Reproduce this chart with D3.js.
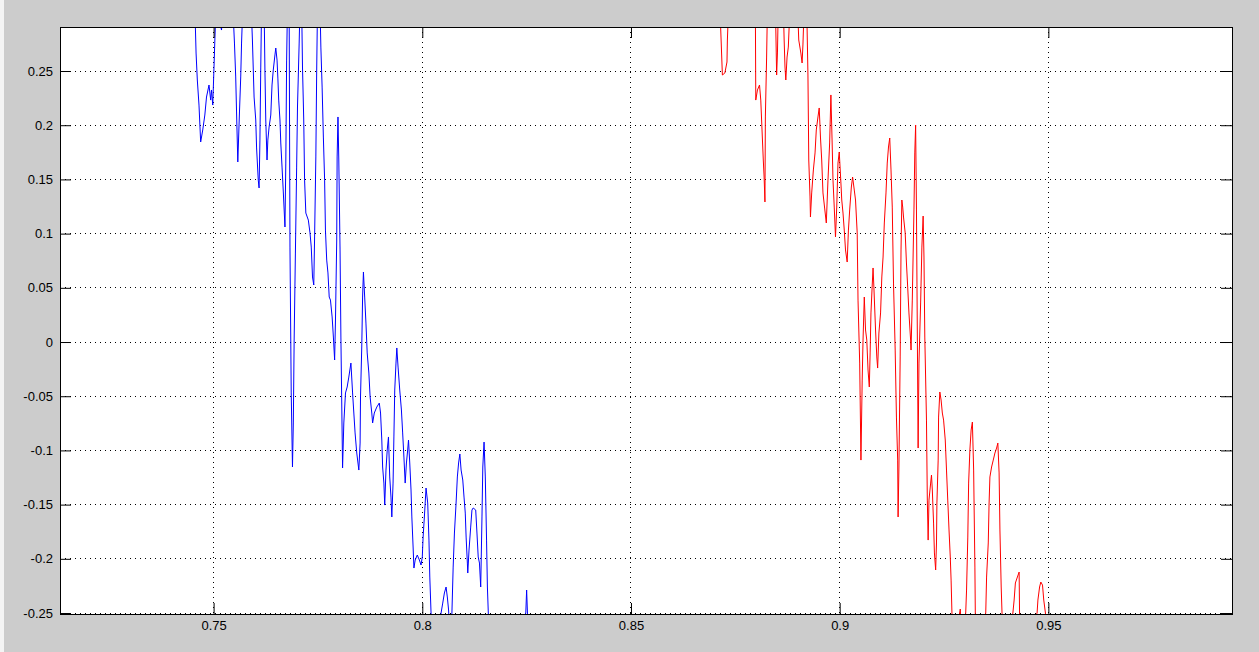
<!DOCTYPE html>
<meta charset="utf-8">
<style>
  body { margin: 0; background: #cccccc; }
  svg { display: block; }
  .tick text { font-family: "Liberation Sans", Arial, sans-serif; font-size: 13px; fill: #000; }
  .tick line { stroke: #000; }
  .grid line { stroke: #000; stroke-dasharray: 1,4; shape-rendering: crispEdges; }
  .line { fill: none; stroke-width: 1; }
</style>
<body>
<svg width="1259" height="652"></svg>

<script src="https://cdn.jsdelivr.net/npm/d3@7"></script>
<script>

// tick positions and their labels (matlab style, plain hyphen)
var xTicks = [0.75, 0.8, 0.85, 0.9, 0.95];
var xTickLabels = ["0.75", "0.8", "0.85", "0.9", "0.95"];
var yTicks = [-0.25, -0.2, -0.15, -0.1, -0.05, 0, 0.05, 0.1, 0.15, 0.2, 0.25];
var yTickLabels = ["-0.25", "-0.2", "-0.15", "-0.1", "-0.05", "0", "0.05", "0.1", "0.15", "0.2", "0.25"];

var xLimits = [0.7132, 0.994];
var yLimits = [-0.2509, 0.2906];

// blue trace [x, y]
var blueSeries = [
  [0.7455,0.31],[0.7458,0.2666],[0.7461,0.2417],[0.7465,0.2186],[0.7469,0.1845],[0.7474,0.1956],[0.7479,0.2094],[0.7483,0.2260],
  [0.7489,0.2371],[0.7493,0.2232],[0.7495,0.2325],[0.7498,0.2186],[0.7501,0.2537],[0.7503,0.2786],[0.7506,0.31],[0.7519,0.2878],[0.7523,0.31],
  [0.7546,0.31],[0.7550,0.2758],[0.7553,0.2445],[0.7555,0.2122],[0.7558,0.1661],[0.7562,0.2122],[0.7565,0.2445],[0.7567,0.2758],[0.7570,0.31],
  [0.7590,0.31],[0.7593,0.2786],[0.7597,0.2260],[0.7601,0.2048],[0.7603,0.1790],[0.7607,0.1494],[0.7609,0.1421],[0.7611,0.1863],[0.7613,0.2528],[0.7615,0.31],
  [0.7621,0.31],[0.7623,0.2509],[0.7625,0.2048],[0.7628,0.1679],[0.7630,0.1863],[0.7633,0.1983],[0.7637,0.2094],[0.7640,0.2371],[0.7643,0.2509],
  [0.7647,0.2648],[0.7649,0.2712],[0.7652,0.2601],[0.7654,0.2435],[0.7656,0.2232],[0.7659,0.2048],[0.7661,0.1836],[0.7664,0.1614],[0.7667,0.1384],
  [0.7671,0.1061],[0.7673,0.1651],[0.7675,0.2601],[0.7677,0.31],
  [0.7681,0.31],[0.7683,0.0876],[0.7686,-0.0470],[0.7689,-0.1153],[0.7691,-0.0747],[0.7693,0.0018],[0.7696,0.0821],[0.7699,0.1614],[0.7701,0.2168],[0.7705,0.2758],[0.7707,0.31],
  [0.7711,0.31],[0.7713,0.2537],[0.7716,0.2048],[0.7718,0.1494],[0.7721,0.1190],[0.7727,0.1125],[0.7731,0.1006],[0.7734,0.0876],[0.7737,0.0600],
  [0.7740,0.0526],[0.7742,0.0969],[0.7745,0.1707],[0.7747,0.2509],[0.7749,0.31],
  [0.7755,0.31],[0.7757,0.2721],[0.7760,0.2352],[0.7763,0.1891],[0.7766,0.1494],[0.7768,0.1033],[0.7771,0.0756],[0.7774,0.0637],[0.7777,0.0415],
  [0.7780,0.0387],[0.7784,0.0231],[0.7787,0.0046],[0.7790,-0.0166],[0.7792,0.0203],[0.7795,0.0941],[0.7796,0.1707],[0.7798,0.2076],[0.7800,0.1679],
  [0.7803,0.0849],[0.7805,0.0046],[0.7809,-0.1162],[0.7812,-0.0747],[0.7816,-0.0470],[0.7820,-0.0415],[0.7824,-0.0323],[0.7829,-0.0194],
  [0.7833,-0.0470],[0.7836,-0.0655],[0.7839,-0.0839],[0.7843,-0.1024],[0.7848,-0.1181],[0.7851,-0.0932],[0.7852,-0.0507],[0.7855,-0.0046],
  [0.7857,0.0415],[0.7859,0.0646],[0.7862,0.0415],[0.7865,0.0175],[0.7868,-0.0101],[0.7872,-0.0286],[0.7875,-0.0507],[0.7879,-0.0655],
  [0.7881,-0.0747],[0.7885,-0.0655],[0.7891,-0.0600],[0.7897,-0.0563],[0.7900,-0.0655],[0.7903,-0.0904],[0.7905,-0.1153],[0.7908,-0.1301],
  [0.7910,-0.1504],[0.7913,-0.1181],[0.7916,-0.0996],[0.7919,-0.0876],[0.7922,-0.1245],[0.7925,-0.1430],[0.7927,-0.1614],[0.7930,-0.1301],
  [0.7932,-0.0876],[0.7934,-0.0443],[0.7937,-0.0194],[0.7939,-0.0055],[0.7942,-0.0231],[0.7946,-0.0443],[0.7950,-0.0627],[0.7953,-0.0839],
  [0.7956,-0.1061],[0.7959,-0.1301],[0.7962,-0.1116],[0.7965,-0.0996],[0.7967,-0.0904],[0.7970,-0.1116],[0.7973,-0.1365],[0.7975,-0.1614],
  [0.7978,-0.1891],[0.7980,-0.2085],[0.7983,-0.2011],[0.7988,-0.1965],[0.7993,-0.2011],[0.7997,-0.2057],[0.8000,-0.1983],[0.8002,-0.1799],
  [0.8006,-0.1550],[0.8009,-0.1347],[0.8013,-0.1485],[0.8016,-0.1827],[0.8018,-0.2168],[0.8021,-0.2500],[0.8025,-0.28],[0.8037,-0.27],
  [0.8045,-0.25],[0.8049,-0.2408],[0.8053,-0.2315],[0.8057,-0.2260],[0.8060,-0.2352],[0.8063,-0.2472],[0.8066,-0.27],
  [0.8071,-0.25],[0.8074,-0.2076],[0.8077,-0.1762],[0.8081,-0.1485],[0.8084,-0.1245],[0.8087,-0.1116],[0.8090,-0.1033],[0.8093,-0.1181],
  [0.8097,-0.1273],[0.8100,-0.1430],[0.8103,-0.1578],[0.8105,-0.1799],[0.8108,-0.2039],[0.8109,-0.2131],[0.8112,-0.1919],[0.8116,-0.1707],
  [0.8119,-0.1550],[0.8122,-0.1531],[0.8128,-0.1550],[0.8131,-0.1762],[0.8134,-0.1983],[0.8137,-0.2039],[0.8140,-0.2260],[0.8143,-0.1614],
  [0.8145,-0.1153],[0.8148,-0.0923],[0.8151,-0.1245],[0.8154,-0.1827],[0.8156,-0.2260],[0.8160,-0.27],[0.8186,-0.29],[0.8222,-0.28],
  [0.8248,-0.25],[0.8250,-0.2288],[0.8252,-0.25],[0.8255,-0.28]
];

// red trace [x, y]
var redSeries = [
  [0.8713,0.31],[0.8719,0.2463],[0.8725,0.2482],[0.8730,0.2583],[0.8731,0.2786],[0.8734,0.31],
  [0.8798,0.31],[0.8799,0.2232],[0.8803,0.2325],[0.8808,0.2371],[0.8811,0.2232],[0.8814,0.1956],[0.8817,0.1679],[0.8819,0.1522],
  [0.8821,0.1292],[0.8822,0.2076],[0.8825,0.2629],[0.8827,0.31],
  [0.8846,0.31],[0.8848,0.2675],[0.8849,0.2463],[0.8851,0.2675],[0.8853,0.31],
  [0.8865,0.31],[0.8867,0.2786],[0.8869,0.2537],[0.8871,0.2417],[0.8874,0.2629],[0.8877,0.2721],[0.8881,0.31],
  [0.8899,0.31],[0.8902,0.2786],[0.8907,0.2666],[0.8910,0.2574],[0.8912,0.2740],[0.8915,0.31],
  [0.8921,0.31],[0.8924,0.2463],[0.8926,0.1679],[0.8929,0.1338],[0.8930,0.1153],[0.8933,0.1375],[0.8937,0.1587],[0.8941,0.1744],
  [0.8944,0.1956],[0.8948,0.2076],[0.8951,0.2159],[0.8954,0.1891],[0.8957,0.1679],[0.8960,0.1375],[0.8964,0.1236],[0.8968,0.1098],
  [0.8972,0.1494],[0.8976,0.1836],[0.8979,0.2279],[0.8982,0.1836],[0.8984,0.1494],[0.8987,0.1245],[0.8990,0.0969],[0.8993,0.1245],
  [0.8996,0.1651],[0.8999,0.1753],[0.9003,0.1467],[0.9005,0.1310],[0.9008,0.1190],[0.9011,0.1033],[0.9014,0.0849],[0.9018,0.0738],
  [0.9021,0.1033],[0.9024,0.1218],[0.9028,0.1430],[0.9031,0.1522],[0.9035,0.1402],[0.9038,0.1310],[0.9042,0.1006],[0.9044,0.0387],
  [0.9048,-0.0194],[0.9051,-0.1089],[0.9054,-0.0351],[0.9056,0.0018],[0.9059,0.0415],[0.9062,0.0111],[0.9065,0.0018],[0.9068,-0.0258],
  [0.9071,-0.0415],[0.9073,-0.0101],[0.9075,0.0268],[0.9078,0.0526],[0.9080,0.0683],[0.9082,0.0507],[0.9086,0.0111],[0.9089,-0.0138],
  [0.9091,-0.0240],[0.9094,0.0083],[0.9098,0.0268],[0.9101,0.0600],[0.9104,0.0784],[0.9107,0.1098],[0.9111,0.1375],[0.9114,0.1651],
  [0.9117,0.1799],[0.9120,0.1882],[0.9123,0.1587],[0.9126,0.1245],[0.9129,0.0544],[0.9133,-0.0074],[0.9136,-0.0692],[0.9139,-0.1089],
  [0.9140,-0.1614],[0.9142,-0.1153],[0.9145,-0.0138],[0.9147,0.0849],[0.9149,0.1310],[0.9151,0.1245],[0.9153,0.1153],[0.9157,0.1006],
  [0.9160,0.0729],[0.9163,0.0507],[0.9166,0.0268],[0.9170,0.0018],[0.9171,-0.0074],[0.9174,0.0387],[0.9178,0.1218],[0.9180,0.1744],
  [0.9182,0.2002],[0.9184,0.1218],[0.9188,-0.0978],[0.9190,-0.0194],[0.9194,0.0360],[0.9197,0.0876],[0.9200,0.1162],[0.9202,0.0784],
  [0.9204,0.0046],[0.9208,-0.0720],[0.9210,-0.1458],[0.9212,-0.1827],[0.9214,-0.1458],[0.9218,-0.1301],[0.9220,-0.1227],[0.9222,-0.1365],
  [0.9225,-0.1670],[0.9227,-0.1946],[0.9230,-0.2103],[0.9232,-0.1854],[0.9233,-0.1485],[0.9236,-0.1089],[0.9237,-0.0692],[0.9240,-0.0461],
  [0.9243,-0.0535],[0.9246,-0.0655],[0.9249,-0.0720],[0.9253,-0.0904],[0.9256,-0.1181],[0.9259,-0.1458],[0.9262,-0.1734],[0.9265,-0.1983],
  [0.9267,-0.2196],[0.9269,-0.25],[0.9273,-0.27],
  [0.9287,-0.251],[0.9289,-0.2463],[0.9292,-0.27],
  [0.9302,-0.25],[0.9304,-0.2288],[0.9307,-0.1799],[0.9309,-0.1301],[0.9312,-0.0996],[0.9315,-0.0812],[0.9318,-0.0738],[0.9321,-0.1181],
  [0.9324,-0.2076],[0.9325,-0.25],[0.9331,-0.28],
  [0.9350,-0.25],[0.9352,-0.2168],[0.9356,-0.1854],[0.9358,-0.1485],[0.9360,-0.1245],[0.9364,-0.1153],[0.9368,-0.1089],[0.9372,-0.1024],
  [0.9376,-0.0978],[0.9379,-0.0932],[0.9382,-0.1208],[0.9384,-0.1734],[0.9387,-0.2260],[0.9389,-0.25],[0.9396,-0.28],
  [0.9415,-0.25],[0.9418,-0.2380],[0.9421,-0.2223],[0.9425,-0.2177],[0.9430,-0.2122],[0.9431,-0.25],[0.9436,-0.28],
  [0.9473,-0.25],[0.9475,-0.2380],[0.9479,-0.2260],[0.9482,-0.2214],[0.9486,-0.2242],[0.9489,-0.2380],[0.9493,-0.25],[0.9498,-0.28]
];

var margin = {top: 27, right: 27, bottom: 38, left: 60};

var svg = d3.select("svg");
var width = +svg.attr("width") - margin.left - margin.right;
var height = +svg.attr("height") - margin.top - margin.bottom;

var x = d3.scaleLinear().domain(xLimits).range([0, width]);
var y = d3.scaleLinear().domain(yLimits).range([height, 0]);

// light strip down the left edge of the window capture
svg.append("rect")
    .attr("width", 4)
    .attr("height", +svg.attr("height"))
    .attr("fill", "#f4f4f4");

var g = svg.append("g")
    .attr("transform", "translate(" + margin.left + "," + margin.top + ")");

// white plot area
g.append("rect")
    .attr("width", width)
    .attr("height", height)
    .attr("fill", "#fff");

svg.append("defs").append("clipPath")
    .attr("id", "clip")
  .append("rect")
    .attr("width", width)
    .attr("height", height);

// dotted grid
var grid = g.append("g").attr("class", "grid");
grid.selectAll(".vgrid")
    .data(xTicks)
  .enter().append("line")
    .attr("x1", function(d) { return x(d); })
    .attr("x2", function(d) { return x(d); })
    .attr("y1", 0)
    .attr("y2", height);
grid.selectAll(".hgrid")
    .data(yTicks)
  .enter().append("line")
    .attr("x1", 0)
    .attr("x2", width)
    .attr("y1", function(d) { return y(d); })
    .attr("y2", function(d) { return y(d); });

// the two traces
var valueline = d3.line()
    .x(function(d) { return x(d[0]); })
    .y(function(d) { return y(d[1]); });

var traces = g.append("g").attr("clip-path", "url(#clip)");
traces.append("path")
    .datum(blueSeries)
    .attr("class", "line")
    .attr("stroke", "#0000ff")
    .attr("d", valueline);
traces.append("path")
    .datum(redSeries)
    .attr("class", "line")
    .attr("stroke", "#ff0000")
    .attr("d", valueline);

// axes, ticks pointing inward like matlab
var tickLen = 11;

function fmt(ticks, labels) {
    return function(d) { return labels[ticks.indexOf(d)]; };
}

g.append("g")
    .attr("transform", "translate(0," + height + ")")
    .call(d3.axisBottom(x).tickValues(xTicks).tickFormat(fmt(xTicks, xTickLabels))
          .tickSizeInner(-tickLen).tickSizeOuter(0).tickPadding(7))
    .call(function(a) { a.select(".domain").remove(); });

g.append("g")
    .call(d3.axisTop(x).tickValues(xTicks).tickFormat("")
          .tickSizeInner(-tickLen).tickSizeOuter(0))
    .call(function(a) { a.select(".domain").remove(); });

g.append("g")
    .call(d3.axisLeft(y).tickValues(yTicks).tickFormat(fmt(yTicks, yTickLabels))
          .tickSizeInner(-tickLen).tickSizeOuter(0).tickPadding(7))
    .call(function(a) { a.select(".domain").remove(); });

g.append("g")
    .attr("transform", "translate(" + width + ",0)")
    .call(d3.axisRight(y).tickValues(yTicks).tickFormat("")
          .tickSizeInner(-tickLen).tickSizeOuter(0))
    .call(function(a) { a.select(".domain").remove(); });

// box
g.append("rect")
    .attr("width", width)
    .attr("height", height)
    .attr("fill", "none")
    .attr("stroke", "#000")
    .attr("shape-rendering", "crispEdges");

</script>
</body>
